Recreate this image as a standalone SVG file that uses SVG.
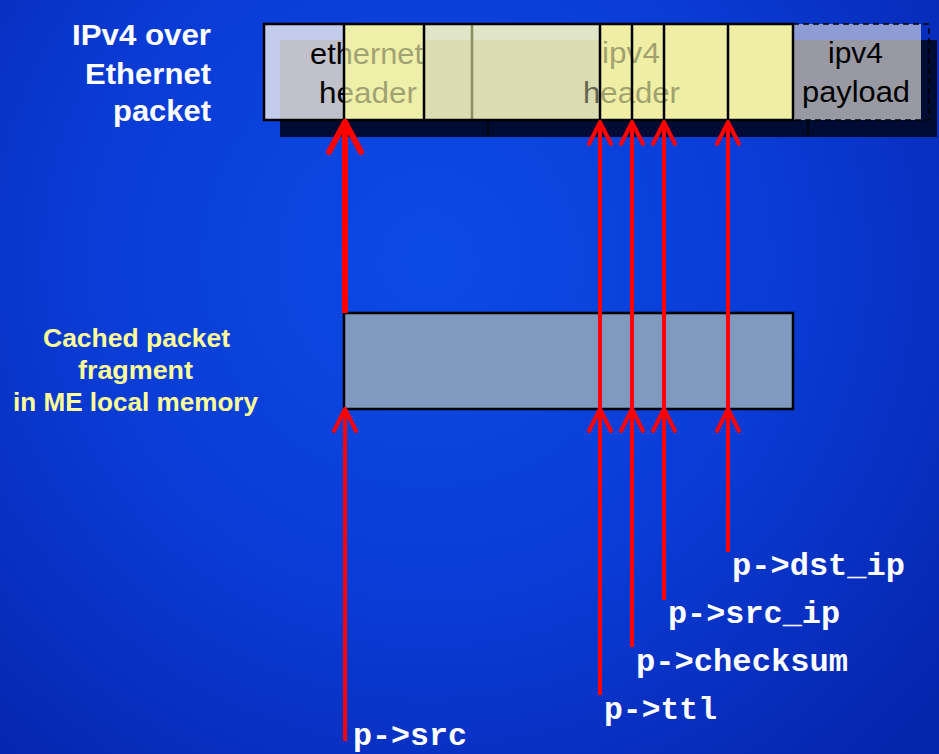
<svg xmlns="http://www.w3.org/2000/svg" width="939" height="754" viewBox="0 0 939 754">
  <defs>
    <radialGradient id="bg" cx="430" cy="260" r="680" gradientUnits="userSpaceOnUse">
      <stop offset="0" stop-color="#0c4ae4"/>
      <stop offset="0.5" stop-color="#0a3cd6"/>
      <stop offset="1" stop-color="#0524ac"/>
    </radialGradient>
    <marker id="head" markerUnits="userSpaceOnUse" viewBox="-26 -14 30 28" markerWidth="30" markerHeight="28" refX="0" refY="0" orient="auto" overflow="visible">
      <path d="M-22,-11 L0,0 L-22,11" fill="none" stroke="#ff0000" stroke-width="4" stroke-linecap="round" stroke-linejoin="round"/>
    </marker>
    <marker id="headBig" markerUnits="userSpaceOnUse" viewBox="-36 -20 40 40" markerWidth="40" markerHeight="40" refX="0" refY="0" orient="auto" overflow="visible">
      <path d="M-30,-16 L0,0 L-30,16" fill="none" stroke="#ff0000" stroke-width="6" stroke-linecap="round" stroke-linejoin="round"/>
    </marker>
  </defs>
  <style>
    .title { font-family: "Liberation Sans", Arial, sans-serif; font-weight: bold; font-size: 30px; fill: #ffffff; }
    .note { font-family: "Liberation Sans", Arial, sans-serif; font-weight: bold; font-size: 26px; fill: #ffff99; }
    .cell { font-family: "Liberation Sans", Arial, sans-serif; font-size: 30px; fill: #000000; }
    .code { font-family: "Liberation Mono", "Courier New", monospace; font-weight: bold; font-size: 32px; fill: #ffffff; }
    .div { stroke: #000000; stroke-width: 2.5; }
    .wire { fill: none; stroke: #ff0000; stroke-width: 4; marker-end: url(#head); }
  </style>

  <!-- backdrop -->
  <rect x="0" y="0" width="939" height="754" fill="url(#bg)"/>

  <!-- labels on the left -->
  <g id="label-packet">
    <text class="title" x="72" y="45" textLength="139" lengthAdjust="spacingAndGlyphs">IPv4 over</text>
    <text class="title" x="85" y="84" textLength="126" lengthAdjust="spacingAndGlyphs">Ethernet</text>
    <text class="title" x="113" y="121" textLength="98" lengthAdjust="spacingAndGlyphs">packet</text>
  </g>
  <g id="label-fragment">
    <text class="note" x="43" y="347" textLength="187" lengthAdjust="spacingAndGlyphs">Cached packet</text>
    <text class="note" x="78" y="379" textLength="115" lengthAdjust="spacingAndGlyphs">fragment</text>
    <text class="note" x="13" y="411" textLength="245" lengthAdjust="spacingAndGlyphs">in ME local memory</text>
  </g>

  <!-- Ethernet/IPv4 packet layout -->
  <g id="packet">
    <!-- drop shadow layer -->
    <rect x="280" y="40" width="657" height="97" fill="#000b33"/>
    <line x1="488" y1="121" x2="488" y2="137" stroke="#000000" stroke-width="1.5"/>
    <line x1="808" y1="121" x2="808" y2="137" stroke="#000000" stroke-width="1.5"/>

    <!-- cell fills -->
    <rect x="264" y="24" width="80" height="96" fill="#c4ccee"/>
    <rect x="280" y="40" width="64" height="80" fill="#c0c1cb"/>
    <rect x="344" y="24" width="80" height="96" fill="#eeefa8"/>
    <rect x="424" y="24" width="176" height="96" fill="#e0e4c8"/>
    <rect x="424" y="40" width="176" height="80" fill="#dcdcb2"/>
    <rect x="600" y="24" width="193" height="96" fill="#eeeea4"/>
    <rect x="793" y="24" width="128" height="96" fill="#8e9cd6"/>
    <rect x="793" y="40" width="128" height="80" fill="#9899a2"/>

    <!-- field names -->
    <text class="cell" x="310" y="64" textLength="113" lengthAdjust="spacingAndGlyphs">ethernet</text>
    <text class="cell" x="319" y="103" textLength="98" lengthAdjust="spacingAndGlyphs">header</text>
    <text class="cell" x="602" y="63" textLength="58" lengthAdjust="spacingAndGlyphs">ipv4</text>
    <text class="cell" x="583" y="103" textLength="97" lengthAdjust="spacingAndGlyphs">header</text>
    <text class="cell" x="828" y="63" textLength="55" lengthAdjust="spacingAndGlyphs" fill="#111111">ipv4</text>
    <text class="cell" x="802" y="102" textLength="108" lengthAdjust="spacingAndGlyphs" fill="#111111">payload</text>

    <!-- translucent header fields over the names -->
    <rect x="344" y="24" width="80" height="96" fill="#eeefa8" opacity="0.68"/>
    <rect x="424" y="40" width="176" height="80" fill="#dcdcb2" opacity="0.45"/>
    <rect x="600" y="24" width="193" height="96" fill="#eeeea4" opacity="0.68"/>

    <!-- field boundaries -->
    <line x1="472" y1="25" x2="472" y2="119" stroke="#8c8c5c" stroke-width="2.5"/>
    <line class="div" x1="344" y1="24" x2="344" y2="120"/>
    <line class="div" x1="424" y1="24" x2="424" y2="120"/>
    <line class="div" x1="600" y1="24" x2="600" y2="120"/>
    <line class="div" x1="632" y1="24" x2="632" y2="120"/>
    <line class="div" x1="664" y1="24" x2="664" y2="120"/>
    <line class="div" x1="728" y1="24" x2="728" y2="120"/>
    <rect x="264" y="24" width="529" height="96" fill="none" stroke="#000000" stroke-width="2.5"/>
    <rect x="793" y="24" width="136" height="96" fill="none" stroke="#000000" stroke-width="1.5" stroke-dasharray="6,4"/>
  </g>

  <!-- cached copy in local memory -->
  <g id="fragment">
    <rect x="344" y="313" width="449" height="96" fill="#7f9abe" stroke="#000000" stroke-width="2.5"/>
  </g>

  <!-- pointers into the packet -->
  <g id="connectors">
    <line class="wire" x1="345" y1="741" x2="345" y2="409"/>
    <line x1="345" y1="313" x2="345" y2="122" fill="none" stroke="#ff0000" stroke-width="6" marker-end="url(#headBig)"/>

    <line class="wire" x1="600" y1="695" x2="600" y2="409"/>
    <line class="wire" x1="600" y1="409" x2="600" y2="122"/>
    <line class="wire" x1="632" y1="647" x2="632" y2="409"/>
    <line class="wire" x1="632" y1="409" x2="632" y2="122"/>
    <line class="wire" x1="664" y1="600" x2="664" y2="409"/>
    <line class="wire" x1="664" y1="409" x2="664" y2="122"/>
    <line class="wire" x1="728" y1="552" x2="728" y2="409"/>
    <line class="wire" x1="728" y1="409" x2="728" y2="122"/>
  </g>

  <!-- pointer names -->
  <g id="pointer-labels">
    <text class="code" x="732" y="575" textLength="173" lengthAdjust="spacingAndGlyphs">p-&gt;dst_ip</text>
    <text class="code" x="668" y="623" textLength="172" lengthAdjust="spacingAndGlyphs">p-&gt;src_ip</text>
    <text class="code" x="636" y="671" textLength="212" lengthAdjust="spacingAndGlyphs">p-&gt;checksum</text>
    <text class="code" x="604" y="719" textLength="113" lengthAdjust="spacingAndGlyphs">p-&gt;ttl</text>
    <text class="code" x="353" y="745" textLength="114" lengthAdjust="spacingAndGlyphs">p-&gt;src</text>
  </g>
</svg>
